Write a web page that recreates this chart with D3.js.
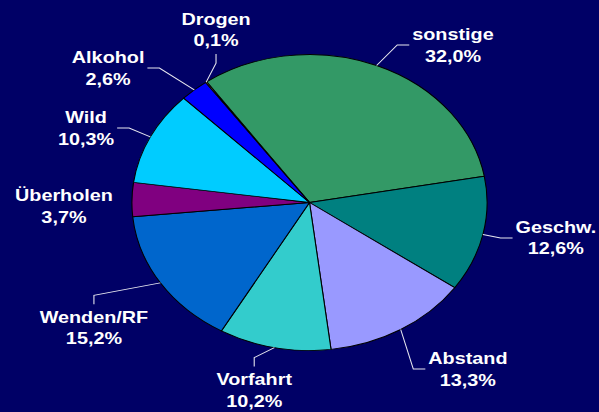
<!DOCTYPE html>
<html>
<head>
<meta charset="utf-8">
<script src="https://cdn.jsdelivr.net/npm/d3@7/dist/d3.min.js"></script>
<style>
  body { margin: 0; background: #000066; }
  svg { display: block; }
</style>
</head>
<body>
<svg id="chart"></svg>
<script>
// slices, clockwise starting with "sonstige"
var categories = ["sonstige", "Geschw.", "Abstand", "Vorfahrt", "Wenden/RF", "Überholen", "Wild", "Alkohol", "Drogen"];
var values = [32.0, 12.6, 13.3, 10.2, 15.2, 3.7, 10.3, 2.6, 0.1];
var colors = ["#339966", "#008080", "#9999FF", "#33CCCC", "#0066CC", "#800080", "#00CCFF", "#0000FF", "#FFFF99"];

// where each label sits: angle (deg, clockwise from 12 o'clock), distance in radii,
// and from which side the leader line comes in
var labelAngle = [37.2, 99.8, 141.6, 193.8, 235.1, 269, 291.8, 308.7, 335.7];
var labelDist = [1.336, 1.408, 1.436, 1.305, 1.48, 1.383, 1.355, 1.453, 1.279];
var leaderSide = ["left", "left", "left", "top", "top", "none", "right", "right", "bottom"];

var W = 599, H = 412,
    r = 148,
    stretch = 1.2,      // the original picture is squeezed wider than tall
    startDeg = -35.4,
    rad = Math.PI / 180;

var svg = d3.select("#chart").attr("width", W).attr("height", H);

svg.append("rect")
   .attr("width", W).attr("height", H)
   .attr("fill", "#000066");

var g = svg.append("g")
   .attr("transform", "translate(309.5,202.5) scale(" + stretch + ",1)");

var data = categories.map(function(c, i) {
  return { name: c, value: values[i], color: colors[i], i: i };
});

var pie = d3.pie()
   .sort(null)
   .value(function(d) { return d.value; })
   .startAngle(startDeg * rad)
   .endAngle(startDeg * rad + 2 * Math.PI);

var arc = d3.arc().innerRadius(0).outerRadius(r);

var arcs = pie(data);

g.selectAll(".slice")
  .data(arcs)
  .enter().append("path")
    .attr("class", "slice")
    .attr("d", arc)
    .attr("fill", function(d) { return d.data.color; })
    .attr("stroke", "#000")
    .attr("stroke-width", 0.9)
    .attr("stroke-linejoin", "round");

function fmt(v) {
  return v.toFixed(1).replace(".", ",") + "%";
}

// labels
var labels = g.selectAll(".lbl")
  .data(arcs)
  .enter().append("g")
    .attr("class", "lbl");

labels.each(function(d) {
  var i = d.data.i,
      a = labelAngle[i] * rad,
      ax = Math.sin(a) * labelDist[i] * r,
      ay = -Math.cos(a) * labelDist[i] * r;
  d.ax = ax; d.ay = ay;

  var t = d3.select(this).append("text")
      .attr("text-anchor", "middle")
      .attr("font-family", "'Liberation Sans', Arial, sans-serif")
      .attr("font-weight", "bold")
      .attr("font-size", "16.5px")
      .attr("fill", "#fff");
  t.append("tspan").attr("x", ax).attr("y", ay - 5).text(d.data.name);
  t.append("tspan").attr("x", ax).attr("y", ay + 16.5).text(fmt(d.data.value));
});

// leader lines from the slice edge to the label
var hGap = 2.5, hSeg = 10, vGap = 4, vSeg = 9;
labels.each(function(d) {
  var side = leaderSide[d.data.i];
  if (side == "none") return;
  var mid = (d.startAngle + d.endAngle) / 2,
      ex = Math.sin(mid) * r,
      ey = -Math.cos(mid) * r,
      bb = d3.select(this).select("text").node().getBBox(),
      pts;
  if (side == "left") {
    var x1 = bb.x - hGap;
    pts = [[ex, ey], [x1 - hSeg, d.ay], [x1, d.ay]];
  } else if (side == "right") {
    var x2 = bb.x + bb.width + hGap;
    pts = [[ex, ey], [x2 + hSeg, d.ay], [x2, d.ay]];
  } else if (side == "top") {
    var y1 = bb.y - vGap;
    pts = [[ex, ey], [d.ax, y1 - vSeg], [d.ax, y1]];
  } else {
    var y2 = bb.y + bb.height + vGap;
    pts = [[ex, ey], [d.ax, y2 + vSeg], [d.ax, y2]];
  }
  g.append("path")
    .attr("d", d3.line()(pts))
    .attr("fill", "none")
    .attr("stroke", "#e8e8f0")
    .attr("stroke-width", 0.9);
});
</script>
</body>
</html>
